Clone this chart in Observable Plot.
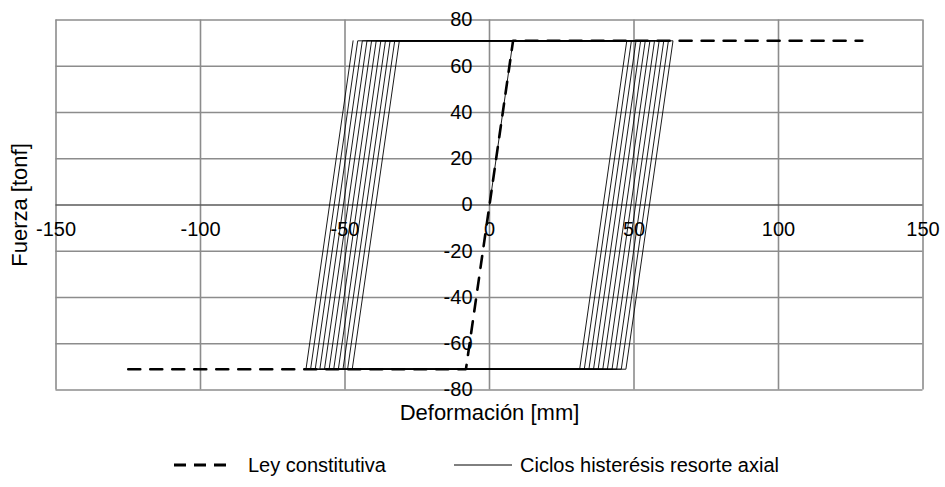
<!DOCTYPE html>
<html>
<head>
<meta charset="utf-8">
<script src="https://cdn.jsdelivr.net/npm/d3@7"></script>
<script src="https://cdn.jsdelivr.net/npm/@observablehq/plot@0.6"></script>
<style>
  html, body { margin: 0; padding: 0; background: #fff; }
  body { width: 945px; height: 487px; overflow: hidden; font-family: "Liberation Sans", Arial, sans-serif; }
  #legend { position: relative; height: 57px; font-size: 20px; color: #000; }
  #legend svg, #legend span { position: absolute; }
  #legend span { top: 23px; line-height: 24px; white-space: nowrap; }
</style>
</head>
<body>
<div id="chart"></div>
<div id="legend">
  <svg style="left:174px; top:25px" width="54" height="20"><line x1="0" y1="10" x2="52" y2="10" stroke="#000" stroke-width="2.8" stroke-dasharray="12,8"></line></svg>
  <span style="left:248px">Ley constitutiva</span>
  <svg style="left:454px; top:25px" width="60" height="20"><line x1="0" y1="10" x2="58" y2="10" stroke="#000" stroke-width="1"></line></svg>
  <span style="left:520px">Ciclos histerésis resorte axial</span>
</div>
<script>
// Tick values
const xTicks = [-150, -100, -50, 0, 50, 100, 150];
const yTicks = [-80, -60, -40, -20, 0, 20, 40, 60, 80];

// Constitutive law: yield force [tonf], yield deformation [mm], end deformations
const yieldForce = 71;
const yieldDef = 8.15;
const lawStart = -125;
const lawEnd = 129;

// Hysteresis cycle amplitudes [mm] (11 cycles)
const cycleAmplitudes = [47.5, 49.1, 50.7, 52.3, 53.9, 55.5, 57.1, 58.7, 60.3, 61.9, 63.5];

// Build polylines from the read values
const lawPts = [
  {x: lawStart, y: -yieldForce},
  {x: -yieldDef, y: -yieldForce},
  {x: yieldDef, y: yieldForce},
  {x: lawEnd, y: yieldForce}
];
const hystPts = [{x: 0, y: 0}, {x: yieldDef, y: yieldForce}];
for (const a of cycleAmplitudes) {
  hystPts.push({x: a, y: yieldForce});
  hystPts.push({x: a - 2 * yieldDef, y: -yieldForce});
  hystPts.push({x: -a, y: -yieldForce});
  hystPts.push({x: -a + 2 * yieldDef, y: yieldForce});
}

const W = 945, H = 430;
const chart = Plot.plot({
  width: W,
  height: H,
  marginLeft: 55.5,
  marginRight: 22.5,
  marginTop: 19.5,
  marginBottom: 40.5,
  style: {fontFamily: '"Liberation Sans", Arial, sans-serif', fontSize: "20px", background: "#fff", color: "#000", overflow: "visible"},
  x: {domain: [-150, 150], axis: null},
  y: {domain: [-80, 80], axis: null},
  marks: [
    Plot.ruleX(xTicks, {stroke: "#8c8c8c", strokeWidth: 1.6}),
    Plot.ruleY(yTicks.filter(d => d !== 0), {stroke: "#8c8c8c", strokeWidth: 1.6}),
    Plot.ruleY([0], {stroke: "#5a5a5a", strokeWidth: 1.6}),
    Plot.line(hystPts, {x: "x", y: "y", stroke: "#000", strokeWidth: 0.9}),
    Plot.line(lawPts, {x: "x", y: "y", stroke: "#000", strokeWidth: 2.6, strokeDasharray: "12,10"}),
    Plot.text(xTicks, {x: d => d, y: 0, text: d => String(d), dy: 25, fill: "#000", fontSize: 20}),
    Plot.text(yTicks, {x: 0, y: d => d, text: d => String(d), textAnchor: "end", dx: -17, fill: "#000", fontSize: 20}),
    Plot.text(["Deformación [mm]"], {frameAnchor: "bottom", dy: 30, fill: "#000", fontSize: 22}),
    Plot.text(["Fuerza [tonf]"], {frameAnchor: "left", textAnchor: "middle", dx: -36, rotate: -90, fill: "#000", fontSize: 22})
  ]
});
document.getElementById("chart").appendChild(chart);
</script>
</body>
</html>
